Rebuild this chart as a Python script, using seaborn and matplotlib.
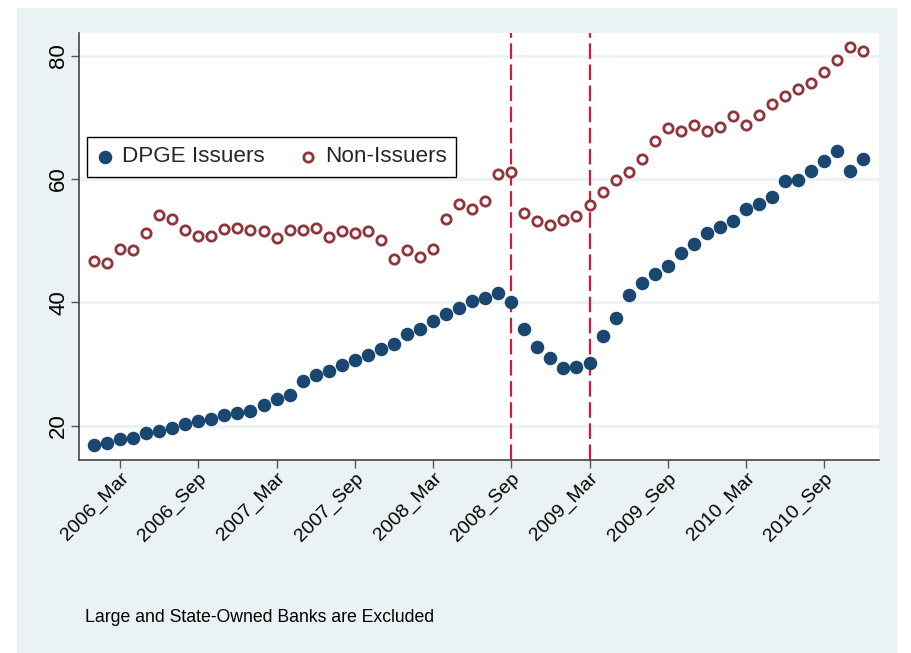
import numpy as np
import pandas as pd
import matplotlib
matplotlib.use("Agg")
import matplotlib.pyplot as plt
import seaborn as sns
from matplotlib.patches import Rectangle

# ---- data ----
years = [2006, 2007, 2008, 2009, 2010]
month_names = ["Jan", "Feb", "Mar", "Apr", "May", "Jun",
               "Jul", "Aug", "Sep", "Oct", "Nov", "Dec"]
periods = [f"{y}_{m}" for y in years for m in month_names]

dpge_issuers = [
    16.9, 17.2, 17.8, 18.0, 18.8, 19.1, 19.7, 20.3, 20.8, 21.1, 21.7, 22.0,
    22.4, 23.3, 24.3, 25.0, 27.3, 28.2, 28.8, 29.8, 30.6, 31.5, 32.4, 33.2,
    34.8, 35.7, 36.9, 38.1, 39.0, 40.2, 40.7, 41.5, 40.1, 35.7, 32.7, 31.0,
    29.4, 29.5, 30.2, 34.6, 37.5, 41.2, 43.2, 44.6, 45.9, 48.0, 49.5, 51.3,
    52.2, 53.2, 55.2, 56.0, 57.0, 59.7, 59.9, 61.3, 62.9, 64.5, 61.3, 63.2,
]
non_issuers = [
    46.7, 46.4, 48.7, 48.4, 51.3, 54.1, 53.5, 51.7, 50.7, 50.8, 51.9, 52.0,
    51.8, 51.5, 50.4, 51.7, 51.7, 52.0, 50.6, 51.6, 51.3, 51.6, 50.1, 47.0,
    48.4, 47.3, 48.6, 53.5, 56.0, 55.1, 56.4, 60.8, 61.1, 54.5, 53.1, 52.5,
    53.3, 54.0, 55.8, 57.9, 59.8, 61.2, 63.2, 66.2, 68.3, 67.8, 68.7, 67.8,
    68.4, 70.2, 68.8, 70.4, 72.1, 73.5, 74.6, 75.6, 77.4, 79.2, 81.4, 80.7,
]
tick_labels = ["2006_Mar", "2006_Sep", "2007_Mar", "2007_Sep", "2008_Mar",
               "2008_Sep", "2009_Mar", "2009_Sep", "2010_Mar", "2010_Sep"]
event_periods = ["2008_Sep", "2009_Mar"]
y_ticks = [20, 40, 60, 80]
note = "Large and State-Owned Banks are Excluded"

df = pd.DataFrame({
    "period": periods,
    "t": np.arange(len(periods)),
    "DPGE Issuers": dpge_issuers,
    "Non-Issuers": non_issuers,
})

# ---- style ----
sns.set_style("white")
plt.rcParams["font.family"] = ["Liberation Sans", "DejaVu Sans"]

navy = "#1a476f"
maroon = "#90353b"
cranberry = "#d01c3e"
bg = "#eaf2f3"

W, H = 911, 653
fig = plt.figure(figsize=(W / 100, H / 100), dpi=100)
fig.patch.set_facecolor("white")
fig.patches.append(Rectangle((17 / W, 0), (897 - 17) / W, (653 - 8) / H,
                             transform=fig.transFigure, facecolor=bg,
                             edgecolor="none", zorder=-10))

L, R, T, B = 79, 879, 33, 460
ax = fig.add_axes([L / W, 1 - B / H, (R - L) / W, (B - T) / H])
ax.set_zorder(1)
ax.set_facecolor("white")

for yv in y_ticks:
    ax.axhline(yv, color=bg, lw=2, zorder=1)

pos = {p: i for i, p in enumerate(periods)}
for ep in event_periods:
    ax.axvline(pos[ep], color=cranberry, lw=1.6, dashes=(7, 2.5), zorder=2)

sns.scatterplot(data=df, x="t", y="DPGE Issuers", ax=ax, color=navy,
                s=95, edgecolor=navy, linewidth=0, marker="o",
                label="DPGE Issuers", zorder=3)
sns.scatterplot(data=df, x="t", y="Non-Issuers", ax=ax, facecolor="white",
                edgecolor=maroon, s=45, linewidth=2.0, marker="o",
                label="Non-Issuers", zorder=3)

ax.set_xlim(-1.15, 60.2)
ax.set_ylim(14.44, 83.65)

ax.set_xticks([pos[l] for l in tick_labels])
ax.set_xticklabels(tick_labels, rotation=45, ha="right",
                   rotation_mode="anchor", fontsize=14)
ax.set_yticks(y_ticks)
ax.set_yticklabels([str(v) for v in y_ticks], rotation=90, va="center",
                   fontsize=16)
ax.tick_params(axis="both", direction="out", length=6, width=1,
               color="#555555", bottom=True, left=True, labelcolor="black")
ax.tick_params(axis="x", pad=1)
ax.tick_params(axis="y", pad=1)
ax.set_xlabel("")
ax.set_ylabel("")

for s in ["top", "right"]:
    ax.spines[s].set_visible(False)
for s in ["left", "bottom"]:
    ax.spines[s].set_color("#444444")
    ax.spines[s].set_linewidth(1.2)

leg = ax.legend(loc="upper left", bbox_to_anchor=(0.01, 0.7564),
                borderaxespad=0, ncol=2, fontsize=16.2, frameon=True,
                fancybox=False, edgecolor="black", framealpha=1,
                handletextpad=0.35, columnspacing=1.5, borderpad=0.42,
                handlelength=0.8, markerscale=1.0)
leg.get_frame().set_linewidth(1.0)

fig.text(85 / W, 1 - 617 / H, note, fontsize=12.7, va="center", ha="left",
         color="black")

fig.savefig("out.png", dpi=100, facecolor=fig.get_facecolor())
